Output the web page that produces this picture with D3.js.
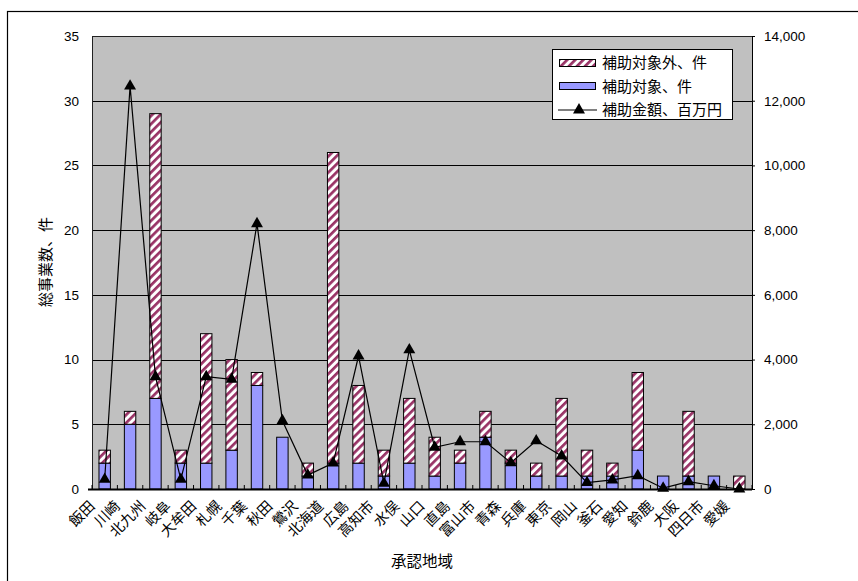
<!DOCTYPE html>
<html>
<head>
<meta charset="utf-8">
<script src="https://cdn.jsdelivr.net/npm/d3@7"></script>
<style>
  body { margin: 0; background: #fff; }
  text { font-family: "Liberation Sans", "Noto Sans CJK JP", sans-serif; fill: #000; }
</style>
</head>
<body>
<div class="chart"></div>
<script>
// chart data
var regions = ["飯田", "川崎", "北九州", "岐阜", "大牟田", "札幌", "千葉", "秋田", "鶯沢", "北海道",
  "広島", "高知市", "水俣", "山口", "直島", "富山市", "青森", "兵庫", "東京", "岡山",
  "釜石", "愛知", "鈴鹿", "大阪", "四日市", "愛媛"];
var subsidized = [2, 5, 7, 2, 2, 3, 8, 4, 1, 2, 2, 1, 2, 1, 2, 4, 2, 1, 1, 1, 1, 3, 1, 1, 1, 0];
var notSubsidized = [1, 1, 22, 1, 10, 7, 1, 0, 1, 24, 6, 2, 5, 3, 1, 2, 1, 1, 6, 2, 1, 6, 0, 5, 0, 1];
var amount = [300, 12450, 3470, 300, 3470, 3390, 8200, 2110, 430, 800, 4110, 175, 4300, 1290, 1460,
  1460, 810, 1490, 1020, 196, 280, 410, 25, 225, 100, 0];
var leftTicks = [0, 5, 10, 15, 20, 25, 30, 35];
var rightTicks = [0, 2000, 4000, 6000, 8000, 10000, 12000, 14000];
var seriesNames = ["補助対象外、件", "補助対象、件", "補助金額、百万円"];

var svgWidth = 858, svgHeight = 581;
var margin = { top: 36, right: 106, bottom: 92, left: 92 };
var width = svgWidth - margin.left - margin.right;
var height = svgHeight - margin.top - margin.bottom;

var svg = d3.select(".chart").append("svg")
  .attr("width", svgWidth)
  .attr("height", svgHeight);

// hatch for the 補助対象外 segments
var defs = svg.append("defs");
var pat = defs.append("pattern")
  .attr("id", "hatch")
  .attr("patternUnits", "userSpaceOnUse")
  .attr("width", 5.7)
  .attr("height", 5.7)
  .attr("patternTransform", "rotate(45)");
pat.append("rect").attr("width", 5.7).attr("height", 5.7).attr("fill", "#fff");
pat.append("rect").attr("width", 2.7).attr("height", 5.7).attr("fill", "#993366");

// outer frame
svg.append("rect")
  .attr("x", 7.5).attr("y", 11.5)
  .attr("width", svgWidth).attr("height", svgHeight)
  .attr("fill", "none").attr("stroke", "#000").attr("stroke-width", 1.2);

var g = svg.append("g")
  .attr("transform", `translate(${margin.left}, ${margin.top})`);

var x = d3.scaleBand().domain(regions).range([0, width]);
var yL = d3.scaleLinear().domain([0, 35]).range([height, 0]);
var yR = d3.scaleLinear().domain([0, 14000]).range([height, 0]);

// plot background
g.append("rect")
  .attr("width", width).attr("height", height)
  .attr("fill", "#c0c0c0");

// grid lines
g.selectAll(".grid").data(leftTicks.slice(1, -1)).enter()
  .append("line")
  .attr("x1", 0).attr("x2", width)
  .attr("y1", d => Math.round(yL(d)) + 0.5).attr("y2", d => Math.round(yL(d)) + 0.5)
  .attr("stroke", "#000").attr("stroke-width", 1);

// stacked bars
var barW = x.bandwidth() * 0.45;
var bars = g.selectAll(".bar").data(regions).enter().append("g");

bars.append("rect")
  .attr("x", d => x(d) + (x.bandwidth() - barW) / 2)
  .attr("width", barW)
  .attr("y", (d, i) => yL(subsidized[i]))
  .attr("height", (d, i) => yL(0) - yL(subsidized[i]))
  .attr("fill", "#9999ff")
  .attr("stroke", (d, i) => subsidized[i] > 0 ? "#000" : "none")
  .attr("stroke-width", 1);

bars.append("rect")
  .attr("x", d => x(d) + (x.bandwidth() - barW) / 2)
  .attr("width", barW)
  .attr("y", (d, i) => yL(subsidized[i] + notSubsidized[i]))
  .attr("height", (d, i) => yL(subsidized[i]) - yL(subsidized[i] + notSubsidized[i]))
  .attr("fill", "url(#hatch)")
  .attr("stroke", (d, i) => notSubsidized[i] > 0 ? "#000" : "none")
  .attr("stroke-width", 1);

// amount line on the right axis
var line = d3.line()
  .x((d, i) => x(regions[i]) + x.bandwidth() / 2)
  .y(d => yR(d));

g.append("path")
  .datum(amount)
  .attr("d", line)
  .attr("fill", "none")
  .attr("stroke", "#000")
  .attr("stroke-width", 1.2);

var tri = d3.symbol().type(d3.symbolTriangle).size(62);
g.selectAll(".marker").data(amount).enter()
  .append("path")
  .attr("d", tri)
  .attr("transform", (d, i) => `translate(${x(regions[i]) + x.bandwidth() / 2}, ${yR(d)})`)
  .attr("fill", "#000");

// plot border
g.append("rect")
  .attr("x", 0.5).attr("y", 0.5)
  .attr("width", width).attr("height", height)
  .attr("fill", "none").attr("stroke", "#222").attr("stroke-width", 1);

// category ticks between bands (pointing up)
g.selectAll(".xtick").data(regions.concat([null])).enter()
  .append("line")
  .attr("x1", d => d === null ? width : x(d))
  .attr("x2", d => d === null ? width : x(d))
  .attr("y1", height).attr("y2", height - 4)
  .attr("stroke", "#000");
g.append("line")
  .attr("x1", -4).attr("x2", width)
  .attr("y1", height + 0.5).attr("y2", height + 0.5)
  .attr("stroke", "#000").attr("stroke-width", 2);

// left axis
var axL = g.append("g")
  .call(d3.axisLeft(yL).tickValues(leftTicks).tickSize(0).tickPadding(13));
axL.select(".domain").remove();
axL.selectAll("text").style("font-size", "13.5px");

// right axis
var axR = g.append("g")
  .attr("transform", `translate(${width}, 0)`)
  .call(d3.axisRight(yR).tickValues(rightTicks).tickSize(3).tickPadding(9).tickFormat(d3.format(",")));
axR.select(".domain").attr("stroke", "#000");
axR.selectAll("text").style("font-size", "13.5px");

// category labels
g.selectAll(".xlab").data(regions).enter()
  .append("text")
  .attr("transform", d => `translate(${x(d) + x.bandwidth() / 2 - 9}, ${height + 18}) rotate(-45)`)
  .attr("text-anchor", "end")
  .style("font-size", "14.5px")
  .text(d => d);

// axis titles
svg.append("text")
  .attr("transform", "translate(51, 262) rotate(-90)")
  .attr("text-anchor", "middle")
  .style("font-size", "15px")
  .text("総事業数、件");

svg.append("text")
  .attr("x", 422).attr("y", 567)
  .attr("text-anchor", "middle")
  .style("font-size", "15.5px")
  .text("承認地域");

// legend
var lg = svg.append("g").attr("transform", "translate(552, 49)");
lg.append("rect")
  .attr("x", 0.5).attr("y", 0.5).attr("width", 180).attr("height", 70)
  .attr("fill", "#fff").attr("stroke", "#000");

lg.append("rect").attr("x", 7.5).attr("y", 10.5).attr("width", 36).attr("height", 7)
  .attr("fill", "url(#hatch)").attr("stroke", "#000");
lg.append("rect").attr("x", 7.5).attr("y", 33.5).attr("width", 36).attr("height", 7)
  .attr("fill", "#9999ff").attr("stroke", "#000");
lg.append("line").attr("x1", 6).attr("x2", 45).attr("y1", 61).attr("y2", 61).attr("stroke", "#000");
lg.append("path").attr("d", tri).attr("transform", "translate(27, 61)").attr("fill", "#000");

lg.selectAll(".lt").data(seriesNames).enter()
  .append("text")
  .attr("x", 50)
  .attr("y", (d, i) => 14 + i * 23.5)
  .attr("dy", "0.36em")
  .style("font-size", "15px")
  .text(d => d);
</script>
</body>
</html>
